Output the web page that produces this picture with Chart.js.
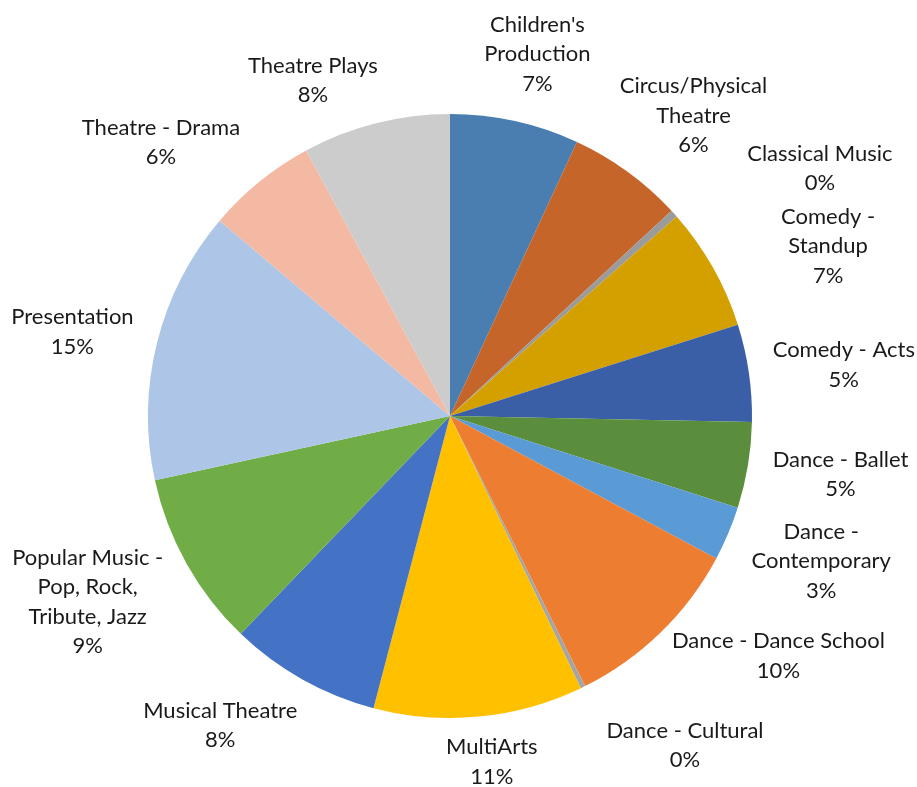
<!DOCTYPE html>
<html>
<head>
<meta charset="utf-8">
<script src="https://cdn.jsdelivr.net/npm/chart.js@4.4.1/dist/chart.umd.min.js"></script>
<style>
  html, body { margin: 0; padding: 0; background: #ffffff; }
  #wrap { width: 917px; height: 787px; }
</style>
</head>
<body>
<div id="wrap"><canvas id="c" width="917" height="787"></canvas></div>
<script>
// Event categories (each entry is the wrapped label, one string per line)
const categories = [
  ["Children's", "Production"],
  ["Circus/Physical", "Theatre"],
  ["Classical Music"],
  ["Comedy -", "Standup"],
  ["Comedy - Acts"],
  ["Dance - Ballet"],
  ["Dance -", "Contemporary"],
  ["Dance - Dance School"],
  ["Dance - Cultural"],
  ["MultiArts"],
  ["Musical Theatre"],
  ["Popular Music -", "Pop, Rock,", "Tribute, Jazz"],
  ["Presentation"],
  ["Theatre - Drama"],
  ["Theatre Plays"]
];

// Share of events per category (percent)
const shares = [6.9, 6.2, 0.4, 6.6, 5.2, 4.6, 2.9, 9.8, 0.25, 11.2, 8.1, 9.4, 14.6, 5.9, 7.9];

const sliceColors = [
  '#4A7EB0', '#C5652A', '#9B9B9B', '#D4A000', '#3A5FA6',
  '#5A8E3C', '#5B9BD5', '#ED7D31', '#A5A5A5', '#FFC000',
  '#4472C4', '#70AD47', '#ADC5E7', '#F4B9A2', '#CCCCCC'
];

// Draws "name / percent" labels outside each slice
const outsideLabels = {
  id: 'outsideLabels',
  afterDatasetsDraw(chart, args, opts) {
    const ctx = chart.ctx;
    const meta = chart.getDatasetMeta(0);
    const values = chart.data.datasets[0].data;
    const total = values.reduce((a, b) => a + b, 0);
    ctx.save();
    ctx.font = opts.font;
    ctx.fillStyle = opts.color;
    ctx.textAlign = 'center';
    ctx.textBaseline = 'middle';
    meta.data.forEach((arc, i) => {
      const p = arc.getProps(['x', 'y', 'startAngle', 'endAngle', 'outerRadius'], true);
      const mid = (p.startAngle + p.endAngle) / 2;
      const ux = Math.cos(mid), uy = Math.sin(mid);
      const lines = [].concat(chart.data.labels[i], Math.round(values[i] / total * 100) + '%');
      const w = Math.max(...lines.map(l => ctx.measureText(l).width));
      const h = lines.length * opts.lineHeight;
      const ext = Math.min(
        Math.abs(ux) > 1e-6 ? (w / 2) / Math.abs(ux) : Infinity,
        Math.abs(uy) > 1e-6 ? (h / 2) / Math.abs(uy) : Infinity
      );
      const d = p.outerRadius + opts.gap + ext;
      const n = opts.nudge[i] || [0, 0];
      const cx = p.x + ux * d + n[0];
      const cy = p.y + uy * d + n[1] + opts.baselineShift;
      lines.forEach((l, k) => {
        ctx.fillText(l, cx, cy + (k - (lines.length - 1) / 2) * opts.lineHeight);
      });
    });
    ctx.restore();
  }
};

new Chart(document.getElementById('c'), {
  type: 'pie',
  data: {
    labels: categories,
    datasets: [{
      data: shares,
      backgroundColor: sliceColors,
      borderWidth: 0
    }]
  },
  options: {
    responsive: false,
    animation: false,
    layout: { padding: { left: 148, right: 165, top: 114, bottom: 69 } },
    plugins: {
      legend: { display: false },
      tooltip: { enabled: false },
      outsideLabels: {
        font: '22px Lato',
        color: '#1a1a1a',
        lineHeight: 29.3,
        gap: 22,
        baselineShift: 2.5,
        nudge: [[8, -4], [21, 3], [97, -3.5], [49, 14], [2, 3], [3, -8], [3, -13], [74, -24],
                [78, 6.5], [8, -8.5], [-55, -5], [-4, -17], [-2, 7], [-61, 5], [-50, 5.5]]
      }
    }
  },
  plugins: [outsideLabels]
});
</script>
</body>
</html>
